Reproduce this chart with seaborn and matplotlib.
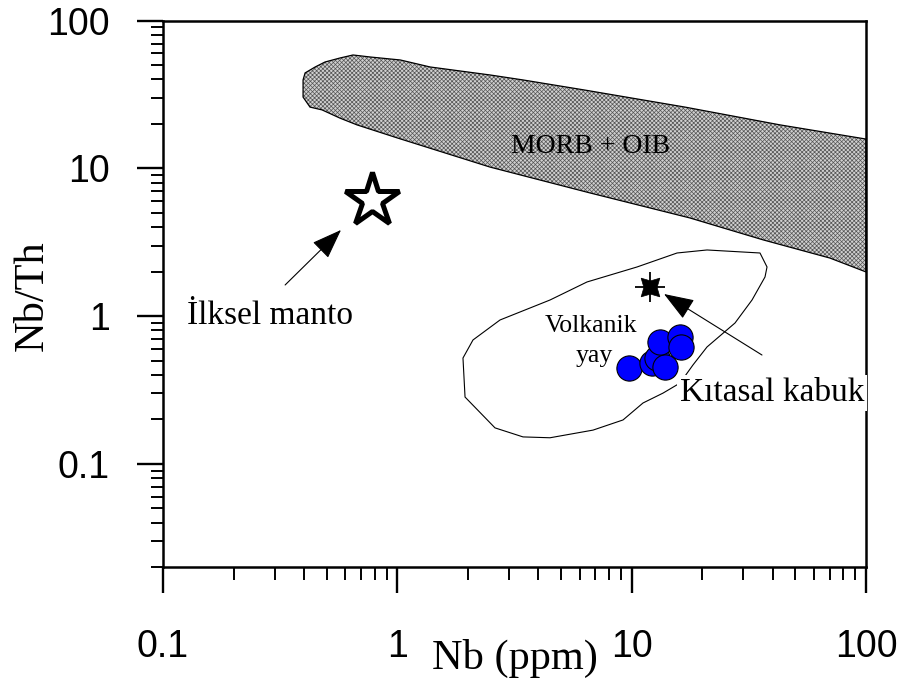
import matplotlib
matplotlib.use("Agg")
import matplotlib.pyplot as plt
import matplotlib.ticker as mticker
import pandas as pd
import seaborn as sns

# Volcanic rock samples (Nb ppm, Nb/Th)
sample_nb = [9.74, 12.21, 12.83, 13.88, 13.21, 16.08, 16.24]
sample_nbth = [0.445, 0.481, 0.520, 0.452, 0.668, 0.722, 0.618]

# MORB + OIB field outline
morb_nb = [0.396, 0.404, 0.446, 0.491, 0.569, 0.647, 0.765, 1.03, 1.38, 2.49,
           3.44, 6.32, 16.9, 43.0, 100.0, 100.0, 70.2, 36.4, 17.7, 6.64,
           2.49, 0.997, 0.673, 0.569, 0.477, 0.424, 0.396]
morb_nbth = [39.7, 44.3, 48.6, 52.5, 55.9, 58.6, 56.8, 54.2, 48.6, 42.9,
             39.7, 33.9, 26.0, 19.7, 15.8, 1.99, 2.47, 3.28, 4.62, 6.82,
             10.2, 16.1, 19.7, 21.9, 24.9, 26.0, 30.4]

# Volcanic arc field outline
arc_nb = [1.906, 2.103, 2.743, 4.483, 6.448, 10.54, 15.62, 20.97, 35.29, 37.81,
          37.07, 32.63, 27.61, 20.97, 18.27, 16.08, 13.61, 11.18, 9.185, 6.839,
          4.483, 3.438, 2.611, 1.945]
arc_nbth = [0.520, 0.689, 0.941, 1.285, 1.702, 2.150, 2.674, 2.803, 2.674, 2.150,
            1.840, 1.285, 0.898, 0.618, 0.467, 0.352, 0.301, 0.258, 0.198, 0.169,
            0.150, 0.152, 0.175, 0.283]

# Reference reservoirs
mantle_nb, mantle_nbth = 0.78, 6.11      # primitive mantle
crust_nb, crust_nbth = 12.0, 1.57        # continental crust

tick_values = [0.1, 1, 10, 100]
tick_labels = ["0.1", "1", "10", "100"]

sns.set_style("ticks")
plt.rcParams["font.family"] = ["Liberation Sans", "DejaVu Sans"]
plt.rcParams["text.color"] = "black"
plt.rcParams["axes.labelcolor"] = "black"
plt.rcParams["xtick.color"] = "black"
plt.rcParams["ytick.color"] = "black"
plt.rcParams["hatch.linewidth"] = 0.5
SERIF = ["Liberation Serif", "DejaVu Serif"]

fig = plt.figure(figsize=(9.1, 6.9), dpi=100)
ax = fig.add_axes([163 / 910, 1 - 567 / 690, 703 / 910, 546.3 / 690])
ax.set_xscale("log")
ax.set_yscale("log")

# MORB + OIB field: fine textured fill plus outline
ax.fill(morb_nb, morb_nbth, facecolor="#d0d0d0", edgecolor="#555555",
        hatch="xxxxxxxx", linewidth=0, zorder=1)
ax.fill(morb_nb, morb_nbth, fill=False, edgecolor="black", linewidth=0.9, zorder=1.5)

# Volcanic arc field
ax.fill(arc_nb, arc_nbth, fill=False, edgecolor="black", linewidth=0.8, zorder=1.5)

# Samples
df = pd.DataFrame({"Nb": sample_nb, "NbTh": sample_nbth})
sns.scatterplot(data=df, x="Nb", y="NbTh", ax=ax, s=330, color="#0000ff",
                edgecolor="black", linewidth=0.8, zorder=4, legend=False)

# Primitive mantle (open star) and continental crust (asterisk)
ax.plot([mantle_nb], [mantle_nbth], marker="*", ms=41, mfc="white", mec="black",
        mew=3.6, linestyle="none", zorder=4)
ax.plot([crust_nb], [crust_nbth], marker="+", ms=22, mec="black", mew=1.3,
        linestyle="none", zorder=4)
ax.plot([crust_nb], [crust_nbth], marker=(4, 1, 45), ms=19, mfc="black", mec="black",
        mew=0.5, linestyle="none", zorder=4)

# Arrows and labels
arrow_style = "-|>,head_length=1.9,head_width=0.7"
ax.annotate("", xy=(0.575, 3.83), xytext=(0.332, 1.624),
            arrowprops=dict(arrowstyle=arrow_style, color="black", lw=0.8,
                            mutation_scale=10, shrinkA=0, shrinkB=0))
ax.annotate("", xy=(13.74, 1.411), xytext=(35.98, 0.545),
            arrowprops=dict(arrowstyle=arrow_style, color="black", lw=0.8,
                            mutation_scale=10, shrinkA=0, shrinkB=0))

ax.text(0.286, 0.884, "İlksel manto", ha="center", va="baseline",
        fontsize=24, family=SERIF, color="black", zorder=5)
ax.text(39.7, 0.266, "Kıtasal kabuk", ha="center", va="baseline",
        fontsize=24, family=SERIF, color="black", zorder=5,
        bbox=dict(facecolor="white", edgecolor="none", pad=2))
ax.text(6.71, 0.780, "Volkanik", ha="center", va="baseline",
        fontsize=18.5, family=SERIF, color="black", zorder=5)
ax.text(6.91, 0.489, "yay", ha="center", va="baseline",
        fontsize=18.5, family=SERIF, color="black", zorder=5)
ax.text(6.71, 12.72, "MORB + OIB", ha="center", va="baseline",
        fontsize=20, family=SERIF, color="black", zorder=5)

# Axes
ax.set_xlim(0.1, 100)
ax.set_ylim(0.02, 100)
ax.set_xticks(tick_values)
ax.set_xticklabels(tick_labels)
ax.set_yticks(tick_values)
ax.set_yticklabels(tick_labels)
ax.xaxis.set_minor_formatter(mticker.NullFormatter())
ax.yaxis.set_minor_formatter(mticker.NullFormatter())
ax.xaxis.set_minor_locator(mticker.LogLocator(base=10, subs=range(2, 10), numticks=20))
ax.yaxis.set_minor_locator(mticker.LogLocator(base=10, subs=range(2, 10), numticks=20))

ax.tick_params(which="both", direction="out", top=False, right=False,
               colors="black", labelcolor="black")
ax.tick_params(which="major", length=18.5, width=1.7, labelsize=27)
ax.tick_params(which="minor", length=9, width=1.4)
ax.tick_params(axis="x", which="major", pad=26)
ax.tick_params(axis="y", which="major", pad=20)

for side in ["left", "bottom", "top", "right"]:
    ax.spines[side].set_visible(True)
    ax.spines[side].set_linewidth(1.8)
    ax.spines[side].set_color("black")

ax.set_xlabel("Nb (ppm)", fontsize=30.5, family=SERIF, color="black")
ax.set_ylabel("Nb/Th", fontsize=30.5, family=SERIF, color="black")
ax.xaxis.set_label_coords(0.5, -0.131)
ax.yaxis.set_label_coords(-0.158, 0.496)

fig.savefig("out.png", dpi=100, facecolor="white")
